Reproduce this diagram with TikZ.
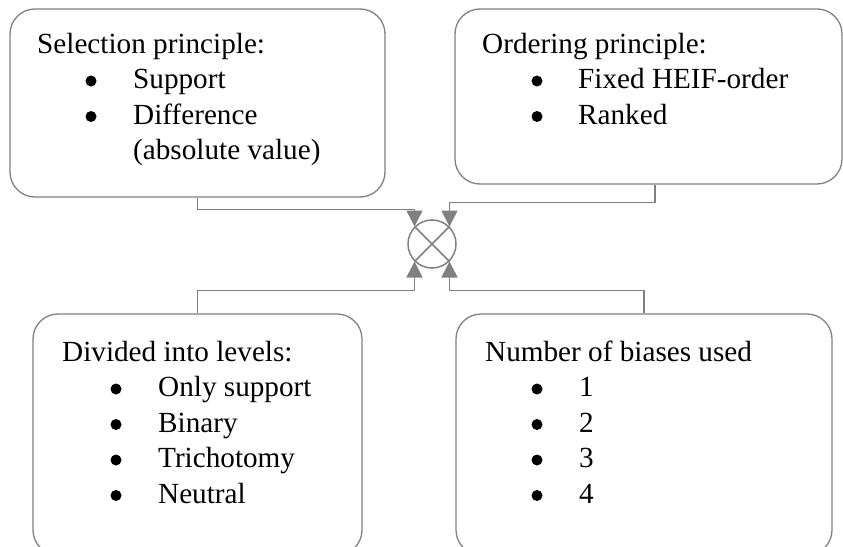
\documentclass[tikz,border=0pt]{standalone}
\usepackage{fontspec}
\setmainfont{Liberation Serif}
\usetikzlibrary{arrows.meta}
\definecolor{linegray}{RGB}{128,128,128}
\begin{document}
\begin{tikzpicture}[x=1pt,y=-1pt,
  box/.style={draw=linegray, line width=1.3pt, rounded corners=25pt, rectangle, inner sep=0pt},
  conn/.style={draw=linegray, line width=1.5pt, -{Triangle[length=16pt,width=16pt]}},
  txt/.style={anchor=base west, inner sep=0pt, font=\fontsize{29.2}{35}\selectfont},
  bul/.style={circle, fill=black, inner sep=0pt, minimum size=11pt, yshift=7.5pt},
]
\useasboundingbox (0,0) rectangle (843,546);
\clip (0,0) rectangle (843,546);

% boxes
\node[box, minimum width=375pt, minimum height=188pt] (tl) at (197.5,103) {};
\node[box, minimum width=387pt, minimum height=175pt] (tr) at (648.5,96.5) {};
\node[box, minimum width=329pt, minimum height=241pt] (bl) at (197.5,434.5) {};
\node[box, minimum width=376pt, minimum height=241pt] (br) at (644,434.5) {};

% combining circle
\node[circle, draw=linegray, line width=1.5pt, minimum size=48pt, inner sep=0pt] (circ) at (432,244) {};
\draw[draw=linegray, line width=1.5pt] (circ.north west) -- (circ.south east);
\draw[draw=linegray, line width=1.5pt] (circ.north east) -- (circ.south west);

% connectors
\draw[conn] (tl.south) -- ++(0,12) -| (circ.north west);
\draw[conn] (tr.south -| 655,0) -- ++(0,18) -| (circ.north east);
\draw[conn] (bl.north) -- ++(0,-23) -| (circ.south west);
\draw[conn] (br.north) -- ++(0,-23) -| (circ.south east);

% top-left text
\node[txt] (tlh) at (37,53) {Selection principle:};
\node[bul] (tlb1) at (91,88.5) {};
\node[bul] (tlb2) at (91,124) {};
\node[txt] (tlt1) at (133,88.5) {Support};
\node[txt] (tlt2) at (133,124) {Difference};
\node[txt] (tlt3) at (133,159.5) {(absolute value)};

% top-right text
\node[txt] (trh) at (482,53) {Ordering principle:};
\node[bul] (trb1) at (537,88.5) {};
\node[bul] (trb2) at (537,124) {};
\node[txt] (trt1) at (578,88.5) {Fixed HEIF-order};
\node[txt] (trt2) at (578,124) {Ranked};

% bottom-left text
\node[txt] (blh) at (62,361) {Divided into levels:};
\node[bul] (blb1) at (116,396.5) {};
\node[bul] (blb2) at (116,432) {};
\node[bul] (blb3) at (116,467.5) {};
\node[bul] (blb4) at (116,503) {};
\node[txt] (blt1) at (158,396.5) {Only support};
\node[txt] (blt2) at (158,432) {Binary};
\node[txt] (blt3) at (158,467.5) {Trichotomy};
\node[txt] (blt4) at (158,503) {Neutral};

% bottom-right text
\node[txt] (brh) at (485,361) {Number of biases used};
\node[bul] (brb1) at (537,396.5) {};
\node[bul] (brb2) at (537,432) {};
\node[bul] (brb3) at (537,467.5) {};
\node[bul] (brb4) at (537,503) {};
\node[txt] (brt1) at (579,396.5) {1};
\node[txt] (brt2) at (579,432) {2};
\node[txt] (brt3) at (579,467.5) {3};
\node[txt] (brt4) at (579,503) {4};
\end{tikzpicture}
\end{document}
